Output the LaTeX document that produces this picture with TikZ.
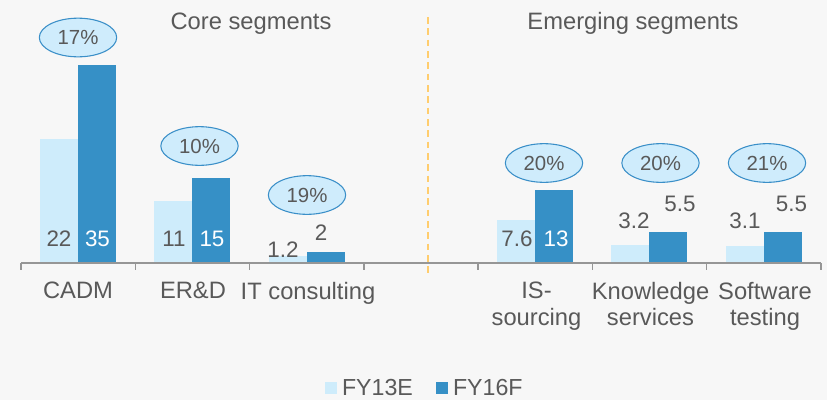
\documentclass[tikz,border=0pt]{standalone}
\usepackage{fontspec}
\setmainfont{Liberation Sans}
\usetikzlibrary{shapes.geometric}
\definecolor{bg}{RGB}{247,247,247}
\definecolor{lbar}{RGB}{206,236,251}
\definecolor{dbar}{RGB}{54,144,198}
\definecolor{txt}{RGB}{89,89,89}
\definecolor{axisc}{RGB}{150,150,150}
\definecolor{ellfill}{RGB}{207,236,252}
\definecolor{elldraw}{RGB}{58,143,200}
\definecolor{dashc}{RGB}{255,205,110}
\begin{document}
\begin{tikzpicture}[x=0.75pt,y=-0.75pt,
  every node/.style={inner sep=0pt,outer sep=0pt,text=txt},
  title/.style={font=\fontsize{17.8}{21}\selectfont,anchor=base},
  catlab/.style={font=\fontsize{17.8}{20}\selectfont,anchor=north,align=center},
  vallab/.style={font=\fontsize{16.8}{20}\selectfont,anchor=base},
  pct/.style={ellipse,draw=elldraw,fill=ellfill,line width=0.8pt,minimum width=58pt,minimum height=29pt,font=\fontsize{15.3}{18}\selectfont},
  legtxt/.style={font=\fontsize{17.4}{20}\selectfont,anchor=west}]
\fill[bg] (0,0) rectangle (827,400);
\useasboundingbox (0,0) rectangle (827,400);
% bars
\foreach \L/\a/\b in {21/124.5/198, 135.3/62.2/84.9, 249.6/6.8/11.3, 478.1/43/73.5, 592.4/18.1/31.1, 706.7/17.5/31.1}{
  \fill[lbar] (\L+19,263) rectangle (\L+57,263-\a);
  \fill[dbar] (\L+57,263) rectangle (\L+95,263-\b);
}
% axis
\draw[axisc,line width=1.1pt] (21,263) -- (821,263);
\foreach \k in {0,...,7}{
  \draw[axisc,line width=1.1pt] (21+114.286*\k,263) -- (21+114.286*\k,270);
}
% divider
\draw[dashc,line width=1.2pt,dash pattern=on 5pt off 3.5pt] (428,17) -- (428,273);
% titles
\node[title] (tcore) at (251,29.5) {Core segments};
\node[title] (temer) at (633,29.5) {Emerging segments};
% value labels
\node[vallab] (v1a) at (59,246) {22};
\node[vallab,text=white] (v1b) at (97.5,246) {35};
\node[vallab] (v2a) at (174,246) {11};
\node[vallab,text=white] (v2b) at (212,246) {15};
\node[vallab] (v3a) at (283,257) {1.2};
\node[vallab] (v3b) at (321,240) {2};
\node[vallab] (v5a) at (517,246) {7.6};
\node[vallab,text=white] (v5b) at (556,246) {13};
\node[vallab] (v6a) at (634,228) {3.2};
\node[vallab] (v6b) at (680,211.7) {5.5};
\node[vallab] (v7a) at (745,228) {3.1};
\node[vallab] (v7b) at (791.5,211.7) {5.5};
% growth ellipses
\node[pct] (g1) at (78,37.5) {17\%};
\node[pct] (g2) at (199.5,146) {10\%};
\node[pct] (g3) at (307,195) {19\%};
\node[pct] (g5) at (544,163) {20\%};
\node[pct] (g6) at (660.5,163) {20\%};
\node[pct] (g7) at (767,163) {21\%};
% category labels
\node[catlab] (c1) at (78,282) {CADM};
\node[catlab] (c2) at (193,282) {ER\&D};
\node[catlab] (c3) at (308,282) {IT consulting};
\node[catlab] (c5) at (536.5,282) {IS-\\sourcing};
\node[catlab] (c6) at (650.5,282) {Knowledge\\services};
\node[catlab] (c7) at (765,282) {Software\\testing};
% legend
\fill[lbar] (325,382) rectangle (337,394);
\node[legtxt] (l1) at (342,388) {FY13E};
\fill[dbar] (436,382) rectangle (448,394);
\node[legtxt] (l2) at (453,388) {FY16F};
\end{tikzpicture}
\end{document}
